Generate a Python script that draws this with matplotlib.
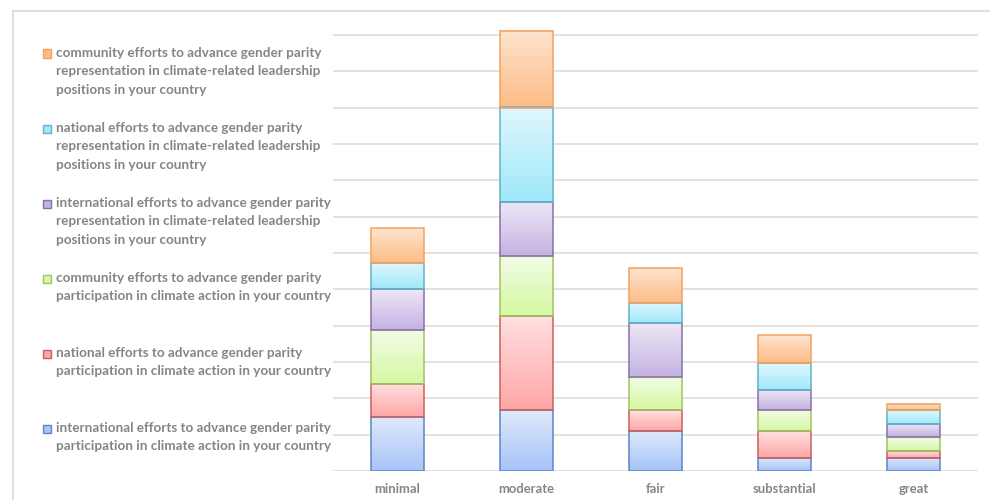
import numpy as np
import matplotlib
matplotlib.use('Agg')
import matplotlib.pyplot as plt
from matplotlib.patches import Rectangle
from matplotlib.lines import Line2D
from matplotlib.colors import to_rgb

categories = ['minimal', 'moderate', 'fair', 'substantial', 'great']

# percent of respondents per series (bottom to top of the stack)
intl_participation = [29.6, 33.3, 22.2, 7.4, 7.4]
natl_participation = [18.5, 51.9, 11.1, 14.8, 3.7]
comm_participation = [29.6, 33.3, 18.5, 11.1, 7.4]
intl_representation = [22.2, 29.6, 29.6, 11.1, 7.4]
natl_representation = [14.8, 51.9, 11.1, 14.8, 7.4]
comm_representation = [19.2, 42.3, 19.2, 15.4, 3.8]

series_labels = [
    'international efforts to advance gender parity\nparticipation in climate action in your country',
    'national efforts to advance gender parity\nparticipation in climate action in your country',
    'community efforts to advance gender parity\nparticipation in climate action in your country',
    'international efforts to advance gender parity\nrepresentation in climate-related leadership\npositions in your country',
    'national efforts to advance gender parity\nrepresentation in climate-related leadership\npositions in your country',
    'community efforts to advance gender parity\nrepresentation in climate-related leadership\npositions in your country',
]
series = [intl_participation, natl_participation, comm_participation,
          intl_representation, natl_representation, comm_representation]

# (top colour, bottom colour, edge colour)
styles = [
    ('#dfe9fb', '#a6c4f8', '#5b86c2'),
    ('#ffe0e1', '#ffa6a6', '#c9605d'),
    ('#f2fce6', '#d5f8a2', '#a2c265'),
    ('#ede7f6', '#c4b2e2', '#8a70a9'),
    ('#e0f7fd', '#a0e8fa', '#5db4cc'),
    ('#fee4cf', '#fdbc86', '#f5a15e'),
]

txt_color = '#858585'
font = 'Lato'

fig = plt.figure(figsize=(9.9, 5.0), dpi=100)
ax = fig.add_axes([333 / 990, 1 - 471 / 500, 645 / 990, (471 - 10.5) / 500])

x = np.arange(len(categories))
width = 0.41
ymax = (471 - 10.5) / 36.35 * 20

bottom = np.zeros(len(categories))
for vals, (ctop, cbot, cedge) in zip(series, styles):
    bars = ax.bar(x, vals, width, bottom=bottom, facecolor='none',
                  edgecolor=cedge, linewidth=1.1, zorder=3)
    grad = np.linspace(0, 1, 64)[:, None]
    top_rgb = np.array(to_rgb(ctop))
    bot_rgb = np.array(to_rgb(cbot))
    img = top_rgb[None, None, :] * (1 - grad[:, :, None]) + bot_rgb[None, None, :] * grad[:, :, None]
    for b in bars:
        x0, y0 = b.get_x(), b.get_y()
        ax.imshow(img, extent=(x0, x0 + b.get_width(), y0, y0 + b.get_height()),
                  aspect='auto', origin='upper', zorder=2)
    bottom += np.array(vals)

ax.set_xlim(-0.5, len(categories) - 0.5)
ax.set_ylim(0, ymax)
ax.set_yticks(np.arange(0, 241, 20))
ax.yaxis.grid(True, color='#dadada', linewidth=1.1, zorder=0)
ax.set_axisbelow(True)
ax.tick_params(axis='y', length=0, labelleft=False)
ax.tick_params(axis='x', length=0, pad=8.5)
ax.set_xticks(x)
ax.set_xticklabels(categories, fontsize=9.4, color=txt_color, family=font, fontweight='bold')
for s in ax.spines.values():
    s.set_visible(False)

# chart frame
fig.add_artist(Line2D([13 / 990, 1], [1 - 10.5 / 500] * 2, color='#d9d9d9', lw=1.2))
fig.add_artist(Line2D([13 / 990] * 2, [0, 1 - 10.5 / 500], color='#d9d9d9', lw=1.2))

# legend (top entry = top of stack)
first_line_y = [428, 353, 278, 203, 128, 53]
for lab, (ctop, cbot, cedge), yy in zip(series_labels, styles, first_line_y):
    fig.add_artist(Rectangle((43 / 990, 1 - (yy + 4.5) / 500), 8 / 990, 8 / 500,
                             facecolor=cbot, edgecolor=cedge, lw=1.0))
    fig.text(56 / 990, 1 - (yy - 6) / 500, lab, ha='left', va='top', fontsize=9.75,
             color=txt_color, family=font, fontweight='bold', linespacing=1.64)

fig.savefig('out.png', dpi=100)
